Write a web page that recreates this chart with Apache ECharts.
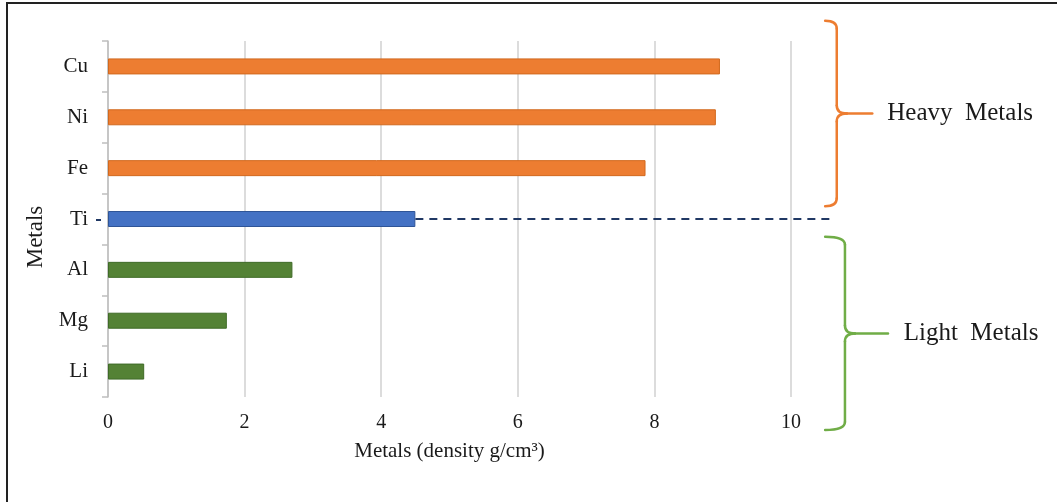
<!DOCTYPE html>
<html>
<head>
<meta charset="utf-8">
<script src="https://cdn.jsdelivr.net/npm/echarts@6/dist/echarts.min.js"></script>
<style>
  html, body { margin: 0; padding: 0; background: #fff; }
  #chart { width: 1057px; height: 502px; }
</style>
</head>
<body>
<div id="chart"></div>
<script>
// Metal densities in g/cm³, heaviest at the top
const metals = ['Cu', 'Ni', 'Fe', 'Ti', 'Al', 'Mg', 'Li'];
const density = [8.96, 8.90, 7.87, 4.50, 2.70, 1.74, 0.53];
const group = ['heavy', 'heavy', 'heavy', 'border', 'light', 'light', 'light'];
const xTicks = [0, 2, 4, 6, 8, 10];
const groupLabels = { heavy: 'Heavy  Metals', light: 'Light  Metals' };

const groupColor = { heavy: '#ED7D31', border: '#4472C4', light: '#548235' };
const groupEdge = { heavy: '#D2691E', border: '#2F5597', light: '#3F6B27' };
const braceColor = { heavy: '#ED7D31', light: '#70AD47' };
const serif = '"Liberation Serif", "Times New Roman", serif';

const chart = echarts.init(document.getElementById('chart'), null, { renderer: 'canvas' });

const barData = density.map((v, i) => ({
  value: v,
  itemStyle: { color: groupColor[group[i]], borderColor: groupEdge[group[i]], borderWidth: 1 }
}));

chart.setOption({
  animation: false,
  backgroundColor: '#fff',
  grid: { left: 108, right: 266, top: 41, bottom: 105 },
  xAxis: {
    type: 'value',
    min: xTicks[0],
    max: xTicks[xTicks.length - 1],
    interval: xTicks[1] - xTicks[0],
    axisLine: { show: false },
    axisTick: { show: false },
    splitLine: { lineStyle: { color: '#d0d0d0', width: 1.5 } },
    axisLabel: { color: '#1a1a1a', fontFamily: serif, fontSize: 20, margin: 16 },
    name: 'Metals (density g/cm³)',
    nameLocation: 'middle',
    nameGap: 44,
    nameTextStyle: { color: '#1a1a1a', fontFamily: serif, fontSize: 21 }
  },
  yAxis: {
    type: 'category',
    data: metals,
    inverse: true,
    axisLine: { lineStyle: { color: '#bfbfbf', width: 1.5 } },
    axisTick: { show: true, length: 6, lineStyle: { color: '#bfbfbf', width: 1.5 } },
    axisLabel: { color: '#1a1a1a', fontFamily: serif, fontSize: 21, margin: 20 },
    name: 'Metals',
    nameLocation: 'middle',
    nameGap: 56,
    nameRotate: 90,
    nameTextStyle: { color: '#1a1a1a', fontFamily: serif, fontSize: 23, padding: [0, 36, 0, 0] }
  },
  series: [{
    type: 'bar',
    data: barData,
    barWidth: 16
  }]
});

// Annotations: dashed divider at the border metal, group braces and their labels
function px(value, catIndex) {
  return chart.convertToPixel({ gridIndex: 0 }, [value, catIndex]);
}

const borderIdx = group.indexOf('border');
const band = px(0, 1)[1] - px(0, 0)[1];
const tiY = px(0, borderIdx)[1];
const dashStart = px(density[borderIdx], borderIdx)[0];
const dashEnd = px(10.61, borderIdx)[0];
const axisX = px(0, 0)[0];

// A curly brace built from straight runs and quadratic curls
function brace(x0, x1, xt, yt, yb, color) {
  const ym = (yt + yb) / 2;
  const r = 8;
  const style = { stroke: color, lineWidth: 2.5, fill: null, lineCap: 'round' };
  const curve = (a, b, c) => ({
    type: 'bezierCurve', silent: true, style,
    shape: { x1: a[0], y1: a[1], cpx1: b[0], cpy1: b[1], x2: c[0], y2: c[1] }
  });
  const line = (a, b) => ({
    type: 'line', silent: true, style,
    shape: { x1: a[0], y1: a[1], x2: b[0], y2: b[1] }
  });
  const tipX = x1 + r + 2;
  return [
    curve([x0, yt], [x1, yt], [x1, yt + r]),
    line([x1, yt + r], [x1, ym - r]),
    curve([x1, ym - r], [x1, ym], [tipX, ym]),
    line([tipX, ym], [xt, ym]),
    curve([tipX, ym], [x1, ym], [x1, ym + r]),
    line([x1, ym + r], [x1, yb - r]),
    curve([x1, yb - r], [x1, yb], [x0, yb])
  ];
}

const heavyIdx = group.indexOf('heavy');
const lightLast = group.lastIndexOf('light');
const heavyTop = px(0, heavyIdx)[1] - 0.9 * band;
const heavyBot = tiY - 0.25 * band;
const lightTop = tiY + 0.35 * band;
const lightBot = px(0, lightLast)[1] + 1.15 * band;

const hx0 = px(10.5, 0)[0], hx1 = px(10.67, 0)[0], hxt = px(11.19, 0)[0];
const lx0 = px(10.5, 0)[0], lx1 = px(10.79, 0)[0], lxt = px(11.42, 0)[0];
const hText = px(11.41, 0)[0], lText = px(11.65, 0)[0];

chart.setOption({
  graphic: [
    // frame edges
    { type: 'line', shape: { x1: 6, y1: 3, x2: 1057, y2: 3 }, style: { stroke: '#222', lineWidth: 2 }, silent: true },
    { type: 'line', shape: { x1: 7, y1: 3, x2: 7, y2: 502 }, style: { stroke: '#222', lineWidth: 2 }, silent: true },
    // divider from the border metal's bar
    { type: 'line', shape: { x1: dashStart, y1: tiY, x2: dashEnd, y2: tiY },
      style: { stroke: '#203864', lineWidth: 2, lineDash: [8, 6] }, silent: true },
    { type: 'line', shape: { x1: axisX - 12, y1: tiY + 1, x2: axisX - 7, y2: tiY + 1 },
      style: { stroke: '#203864', lineWidth: 2 }, silent: true },
    // heavy metals brace and label
    ...brace(hx0, hx1, hxt, heavyTop, heavyBot, braceColor.heavy),
    { type: 'text', x: hText, y: (heavyTop + heavyBot) / 2,
      style: { text: groupLabels.heavy, font: '25px ' + serif, fill: '#1a1a1a', verticalAlign: 'middle', align: 'left' } },
    // light metals brace and label
    ...brace(lx0, lx1, lxt, lightTop, lightBot, braceColor.light),
    { type: 'text', x: lText, y: (lightTop + lightBot) / 2,
      style: { text: groupLabels.light, font: '25px ' + serif, fill: '#1a1a1a', verticalAlign: 'middle', align: 'left' } }
  ]
});
</script>
</body>
</html>
